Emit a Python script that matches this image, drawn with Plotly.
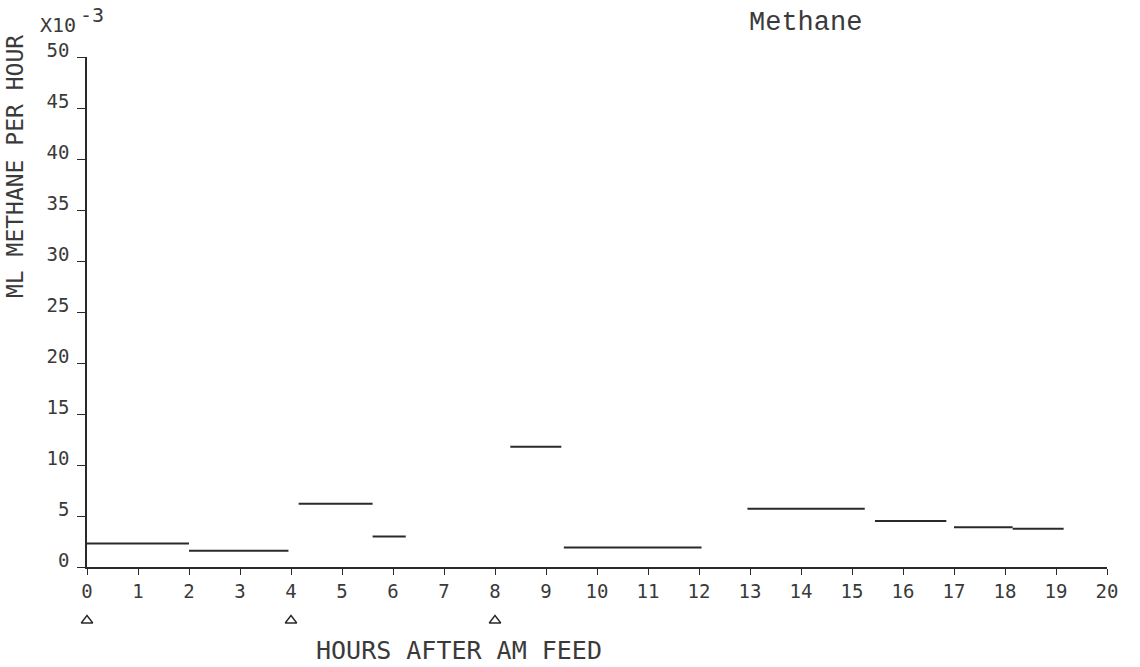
import plotly.graph_objects as go

# Methane output per sampling interval (hours after AM feed, mL/h x 1e-3)
seg_start = [0.0, 2.0, 4.15, 5.6, 8.3, 9.35, 12.95, 15.45, 17.0, 18.15]
seg_end = [2.0, 3.95, 5.6, 6.25, 9.3, 12.05, 15.25, 16.85, 18.15, 19.15]
seg_value = [2.3, 1.6, 6.2, 3.0, 11.8, 1.9, 5.7, 4.5, 3.9, 3.75]

# Feeding times marked under the hour axis
feed_hours = [0, 4, 8]

x_ticks = list(range(0, 21))
y_ticks = list(range(0, 51, 5))

ink = "#2a2a2a"
text_ink = "#3a3a3a"
mono = "DejaVu Sans Mono"

W, H = 1140, 667
L, R, T, B = 87, 33, 57, 40
plot_h = H - T - B
axis_px = 567  # pixel row of the hour axis
main_bottom = (H - B - axis_px) / plot_h


def py(pixel_row):
    """Paper y for a pixel row of the page."""
    return (H - B - pixel_row) / plot_h


def px(pixel_col):
    """Paper x for a pixel column of the page."""
    return (pixel_col - L) / (W - L - R)


xs, ys = [], []
for a, b, v in zip(seg_start, seg_end, seg_value):
    xs += [a, b, None]
    ys += [v, v, None]

fig = go.Figure()
fig.add_trace(go.Scatter(
    x=xs, y=ys, mode="lines",
    line=dict(color=ink, width=2),
    hoverinfo="skip", showlegend=False,
))
# feeding markers live on a thin strip below the hour axis
fig.add_trace(go.Scatter(
    x=feed_hours, y=[0.5] * len(feed_hours), mode="markers",
    xaxis="x", yaxis="y2",
    marker=dict(symbol="triangle-up-open", size=10, color=ink, line=dict(width=1.4, color=ink)),
    cliponaxis=False, hoverinfo="skip", showlegend=False,
))

strip_lo = py(630)
strip_hi = py(614)

fig.update_layout(
    width=W, height=H,
    margin=dict(l=L, r=R, t=T, b=B),
    paper_bgcolor="white", plot_bgcolor="white",
    font=dict(family=mono, color=text_ink, size=17),
    xaxis=dict(
        range=[0, 20], tickvals=x_ticks, ticktext=[str(t) for t in x_ticks],
        anchor="y",
        showgrid=False, zeroline=False, showline=True, linecolor=ink, linewidth=1.5,
        ticks="outside", ticklen=6, tickwidth=1.2, tickcolor=ink,
        tickfont=dict(family=mono, size=19, color=text_ink),
    ),
    yaxis=dict(
        domain=[main_bottom, 1],
        range=[0, 50], tickvals=y_ticks, ticktext=[str(t) for t in y_ticks],
        showgrid=False, zeroline=False, showline=True, linecolor=ink, linewidth=1.5,
        ticks="outside", ticklen=8, tickwidth=1.2, tickcolor=ink,
        ticklabelshift=-7, ticklabelstandoff=4,
        tickfont=dict(family=mono, size=19, color=text_ink),
    ),
    yaxis2=dict(
        domain=[max(strip_lo, 0), strip_hi], range=[0, 1],
        visible=False, showgrid=False, zeroline=False,
    ),
    annotations=[
        dict(text="Methane", x=px(805), y=py(23), xref="paper", yref="paper",
             xanchor="center", yanchor="middle", showarrow=False,
             font=dict(family="Liberation Mono", size=27, color=text_ink)),
        dict(text="HOURS AFTER AM FEED", x=7.3, y=py(650), xref="x", yref="paper",
             xanchor="center", yanchor="middle", showarrow=False,
             font=dict(family=mono, size=25, color=text_ink)),
        dict(text="ML METHANE PER HOUR", x=px(15), y=py(167), xref="paper", yref="paper",
             textangle=-90, xanchor="center", yanchor="middle", showarrow=False,
             font=dict(family=mono, size=23, color=text_ink)),
        dict(text="X10", x=px(38), y=py(25), xref="paper", yref="paper",
             xanchor="left", yanchor="middle", showarrow=False,
             font=dict(family=mono, size=20, color=text_ink)),
        dict(text="-3", x=px(78), y=py(15), xref="paper", yref="paper",
             xanchor="left", yanchor="middle", showarrow=False,
             font=dict(family=mono, size=20, color=text_ink)),
    ],
)

fig.write_html("out.html")
